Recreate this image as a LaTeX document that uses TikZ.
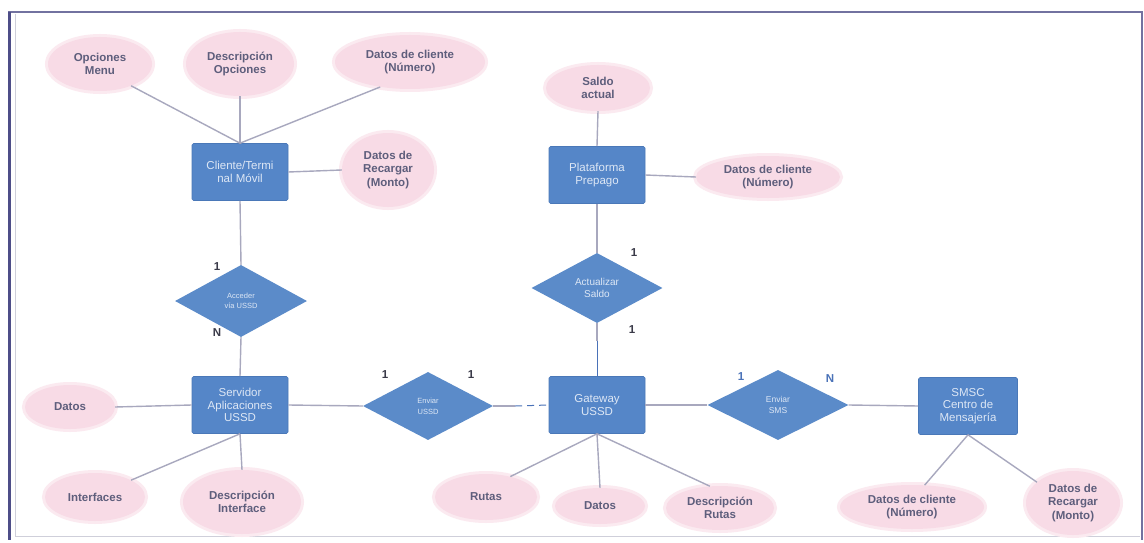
\documentclass[tikz,border=0pt]{standalone}
\usepackage{fontspec}
\setmainfont{Liberation Sans}
\usetikzlibrary{shapes.geometric}

\definecolor{entfill}{HTML}{5586C8}
\definecolor{entdraw}{HTML}{4A78B8}
\definecolor{enttext}{HTML}{DDE7F5}
\definecolor{relfill}{HTML}{5B8BC9}
\definecolor{attrfill}{HTML}{F8DBE6}
\definecolor{attrhalo}{HTML}{FBEAF0}
\definecolor{attrtext}{HTML}{5E5E7C}
\definecolor{linkcol}{HTML}{A8A8BE}
\definecolor{cardcol}{HTML}{3A3A48}
\definecolor{cardblue}{HTML}{4A72B8}
\definecolor{framecol}{HTML}{7272A0}
\definecolor{frameleft}{HTML}{4E4E88}
\definecolor{framelight}{HTML}{CFCFDA}

\begin{document}
\begin{tikzpicture}[x=1pt,y=-1pt,
  attr/.style={ellipse, fill=attrfill, preaction={draw=attrhalo, line width=6pt},
    inner sep=0pt, text=attrtext, align=center,
    font=\fontsize{11.5}{13.5}\selectfont\bfseries},
  entity/.style={rectangle, fill=entfill, draw=entdraw, line width=0.6pt,
    rounded corners=1.5pt, text=enttext, align=center, inner sep=1pt,
    minimum width=96pt, minimum height=57pt,
    font=\fontsize{11.5}{12.5}\selectfont},
  rel/.style={diamond, fill=relfill, inner sep=0pt, text=enttext, align=center},
  link/.style={draw=linkcol, line width=1.4pt},
  card/.style={text=cardcol, font=\fontsize{11.5}{12}\selectfont\bfseries},
  cardb/.style={text=cardblue, font=\fontsize{11.5}{12}\selectfont\bfseries}]

\useasboundingbox (0,0) rectangle (1144,543);
\fill[white] (0,0) rectangle (1144,543);

% outer frame
\draw[framelight, line width=0.8pt] (15,14) -- (15,536) -- (1140,536);
\draw[framecol, line width=1.8pt] (8,12) -- (1142,12) -- (1142,540);
\draw[frameleft, line width=3pt] (9.5,12) -- (9.5,540);

% ---------- entities ----------
\node[entity] (cli) at (240,172) {Cliente/Termi\\nal Móvil};
\node[entity] (srv) at (240,405) {Servidor\\Aplicaciones\\USSD};
\node[entity] (plat) at (597,175) {Plataforma\\Prepago};
\node[entity] (gw) at (597,405) {Gateway\\USSD};
\node[entity, minimum width=99pt] (smsc) at (968,406) {SMSC\\Centro de\\Mensajería};

% ---------- relationships ----------
\node[rel, minimum width=132pt, minimum height=72pt,
  font=\fontsize{7.5}{10}\selectfont] (acc) at (241,301) {Acceder\\vía USSD};
\node[rel, minimum width=131pt, minimum height=70pt,
  font=\fontsize{10}{12}\selectfont] (act) at (597,288) {Actualizar\\Saldo};
\node[rel, minimum width=130pt, minimum height=68pt,
  font=\fontsize{7.5}{11}\selectfont] (envu) at (428,406) {Enviar\\USSD};
\node[rel, minimum width=141pt, minimum height=70pt,
  font=\fontsize{8.5}{11}\selectfont] (envs) at (778,405) {Enviar\\SMS};

% ---------- attributes ----------
\node[attr, minimum width=104pt, minimum height=54pt] (opm) at (100,64) {Opciones\\Menu};
\node[attr, minimum width=108pt, minimum height=64pt] (dop) at (240,64) {Descripción\\Opciones};
\node[attr, minimum width=150pt, minimum height=54pt] (dcl1) at (410,62) {Datos de cliente\\(Número)};
\node[attr, minimum width=92pt, minimum height=74pt] (dre1) at (388,170) {Datos de\\Recargar\\(Monto)};

\node[attr, minimum width=104pt, minimum height=46pt] (sal) at (598,88) {Saldo\\actual};
\node[attr, minimum width=144pt, minimum height=42pt] (dcl2) at (768,177) {Datos de cliente\\(Número)};

\node[attr, minimum width=90pt, minimum height=44pt] (dat1) at (70,407) {Datos};
\node[attr, minimum width=100pt, minimum height=48pt] (intf) at (95,497) {Interfaces};
\node[attr, minimum width=118pt, minimum height=64pt] (dint) at (242,502) {Descripción\\Interface};

\node[attr, minimum width=102pt, minimum height=46pt] (rut) at (486,497) {Rutas};
\node[attr, minimum width=90pt, minimum height=36pt] (dat2) at (600,506) {Datos};
\node[attr, minimum width=108pt, minimum height=44pt] (drut) at (720,508) {Descripción\\Rutas};

\node[attr, minimum width=144pt, minimum height=44pt] (dcl3) at (912,507) {Datos de cliente\\(Número)};
\node[attr, minimum width=94pt, minimum height=64pt] (dre2) at (1073,503) {Datos de\\Recargar\\(Monto)};

% ---------- connectors ----------
\path[link] (opm.-35) -- (cli.north);
\path[link] (dop.south) -- (cli.north);
\path[link] (dcl1.-140) -- (cli.north);
\path[link] (cli.east) -- (dre1.west);
\path[link] (cli.south) -- (acc.north);
\path[link] (acc.south) -- (srv.north);

\path[link] (dat1.east) -- (srv.west);
\path[link] (srv.south) -- (intf.25);
\path[link] (srv.south) -- (dint.north);
\path[link] (srv.east) -- (envu.west);
\path[link] (envu.east) -- ++(22,0) coordinate (gwdash);
\draw[cardblue, line width=1pt, dash pattern=on 7pt off 5pt] (gwdash) -- (gw.west);

\path[link] (sal.south) -- (plat.north);
\path[link] (plat.east) -- (dcl2.west);
\path[link] (plat.south) -- (act.north);
\path[link] (act.south) -- ++(0,18) coordinate (actlow);
\draw[cardblue, line width=1pt] (actlow) -- (gw.north);

\path[link] (gw.south) -- (rut.40);
\path[link] (gw.south) -- (dat2.north);
\path[link] (gw.south) -- (drut.115);
\path[link] (gw.east) -- (envs.west);
\path[link] (envs.east) -- (smsc.west);
\path[link] (smsc.south) -- (dcl3.60);
\path[link] (smsc.south) -- (dre2.150);

% ---------- cardinalities ----------
\node[card] (c1) at (217,267) {1};
\node[card] (c2) at (217,333) {N};
\node[card] (c3) at (385,375) {1};
\node[card] (c4) at (471,375) {1};
\node[card] (c5) at (634,253) {1};
\node[card] (c6) at (632,330) {1};
\node[cardb] (c7) at (741,377) {1};
\node[cardb] (c8) at (830,379) {N};

\end{tikzpicture}
\end{document}
